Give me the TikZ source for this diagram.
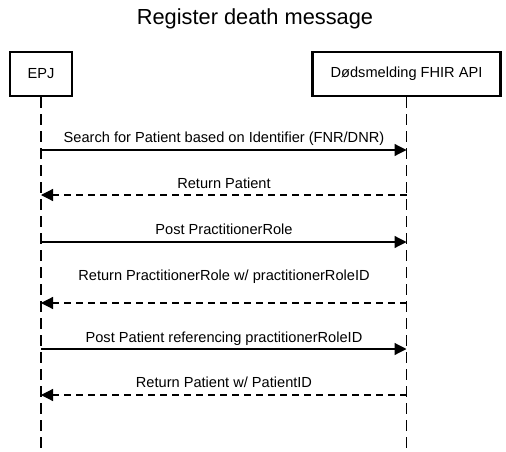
\documentclass[tikz,border=0pt]{standalone}
\usepackage{fontspec}
\setmainfont{Liberation Sans}
\usetikzlibrary{arrows.meta}

\tikzset{
  actor/.style={draw, line width=2.4pt, minimum height=44pt, inner sep=0pt,
    font=\fontsize{14.6}{17}\selectfont},
  lifeline/.style={line width=1.2pt, dash pattern=on 11pt off 6pt},
  call/.style={line width=1.2pt, -{Triangle[length=12pt,width=12pt]}},
  reply/.style={call, dash pattern=on 7pt off 5pt},
  msg/.style={anchor=base, inner sep=0pt, font=\fontsize{14.6}{17}\selectfont}
}

\begin{document}
\begin{tikzpicture}[x=1pt, y=-1pt]
  \useasboundingbox (0,0) rectangle (506,452);

  \path (255,25) node[anchor=base, font=\fontsize{21.8}{26}\selectfont] (title) {Register death message};

  \path (41,74) node[actor, minimum width=62pt] (epj) {EPJ}
        (406.5,74) node[actor, minimum width=188pt] (api) {Dødsmelding FHIR API};
  \path (0,452) coordinate (bottom);

  \draw[lifeline] (epj.south) -- (epj |- bottom);
  \draw[lifeline] (api.south) -- (api |- bottom);

  % message levels
  \path (0,150) coordinate (m1) (0,195) coordinate (m2) (0,242) coordinate (m3)
        (0,303) coordinate (m4) (0,349) coordinate (m5) (0,395) coordinate (m6);

  \draw[call]  (epj |- m1) -- (api |- m1);
  \draw[reply] (api |- m2) -- (epj |- m2);
  \draw[call]  (epj |- m3) -- (api |- m3);
  \draw[reply] (api |- m4) -- (epj |- m4);
  \draw[call]  (epj |- m5) -- (api |- m5);
  \draw[reply] (api |- m6) -- (epj |- m6);

  \path (224,142.5) node[msg] (l1) {Search for Patient based on Identifier (FNR/DNR)}
        (224,188.5) node[msg] (l2) {Return Patient}
        (224,234.5) node[msg] (l3) {Post PractitionerRole}
        (224,280.5) node[msg] (l4) {Return PractitionerRole w/ practitionerRoleID}
        (224,342.5) node[msg] (l5) {Post Patient referencing practitionerRoleID}
        (224,387.5) node[msg] (l6) {Return Patient w/ PatientID};
\end{tikzpicture}
\end{document}
